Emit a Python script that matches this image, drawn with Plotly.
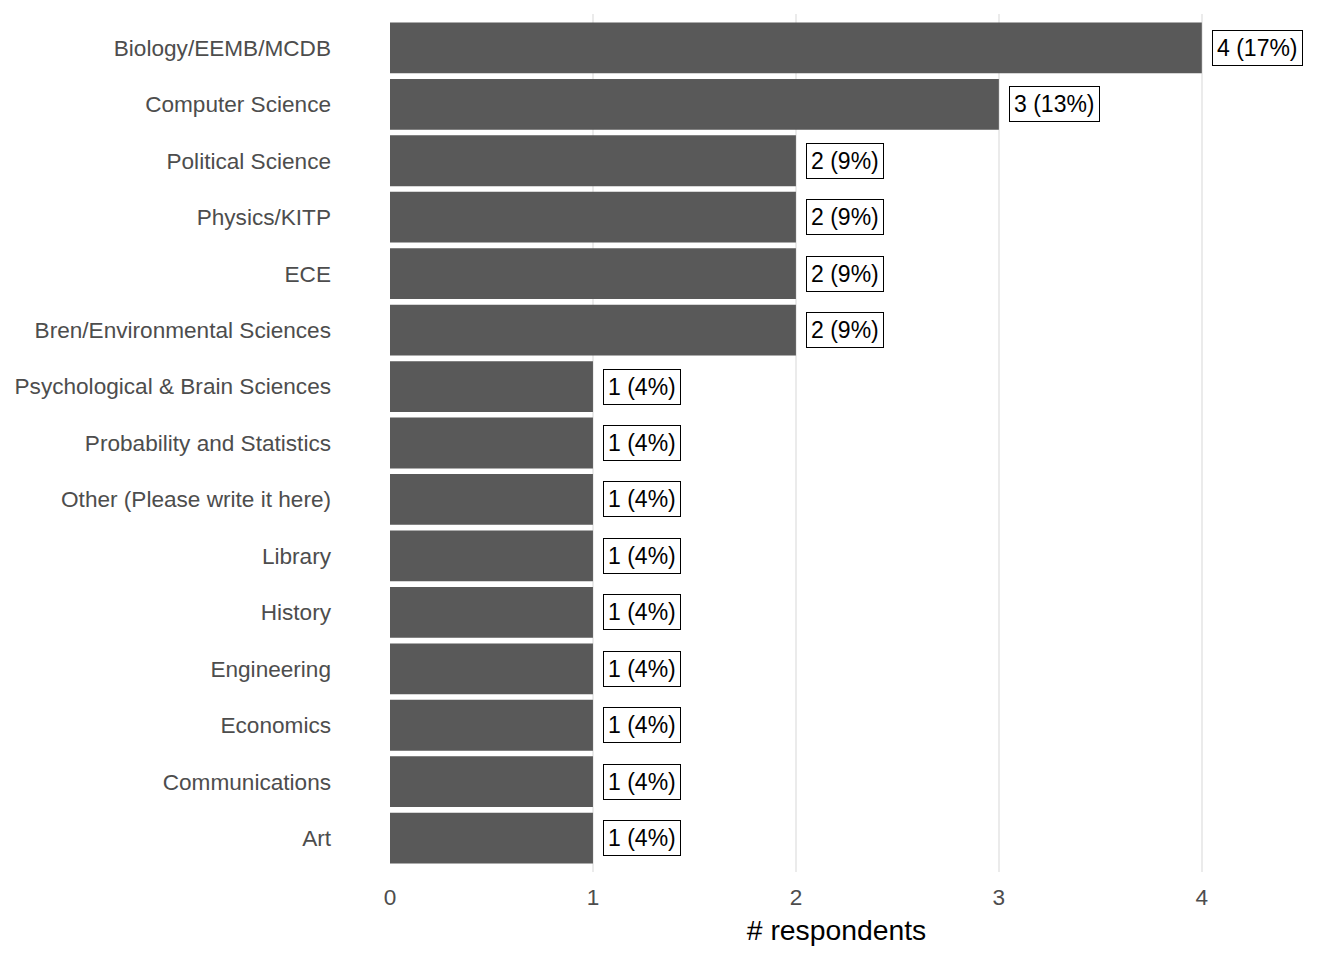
import plotly.graph_objects as go

departments = [
    "Biology/EEMB/MCDB", "Computer Science", "Political Science", "Physics/KITP",
    "ECE", "Bren/Environmental Sciences", "Psychological & Brain Sciences",
    "Probability and Statistics", "Other (Please write it here)", "Library",
    "History", "Engineering", "Economics", "Communications", "Art",
]
counts = [4, 3, 2, 2, 2, 2, 1, 1, 1, 1, 1, 1, 1, 1, 1]
percents = [17, 13, 9, 9, 9, 9, 4, 4, 4, 4, 4, 4, 4, 4, 4]
x_ticks = [0, 1, 2, 3, 4]

fig = go.Figure()
fig.add_trace(go.Bar(
    y=departments, x=counts, orientation="h",
    marker=dict(color="#595959", line=dict(width=0)),
    width=0.9, hoverinfo="skip",
))

for d, c, p in zip(departments, counts, percents):
    fig.add_annotation(
        x=c, y=d, text=f"{c} ({p}%)", showarrow=False,
        xanchor="left", yanchor="middle", xshift=10,
        font=dict(family="Liberation Sans, Arial, sans-serif", size=23, color="black"),
        bgcolor="white", bordercolor="black", borderwidth=1, borderpad=4,
    )

fig.update_layout(
    width=1344, height=960,
    margin=dict(l=382, r=69, t=6, b=96),
    plot_bgcolor="white", paper_bgcolor="white",
    showlegend=False,
    font=dict(family="Liberation Sans, Arial, sans-serif"),
)
fig.update_xaxes(
    range=[0, 4.4], tickvals=x_ticks, showgrid=True, gridcolor="#ebebeb", gridwidth=1.5,
    zeroline=False, showline=False, ticks="", automargin=False,
    tickfont=dict(size=22.6, color="#4d4d4d"), ticklabelstandoff=9,
    title=dict(text="# respondents", font=dict(size=28.3, color="black"), standoff=11),
)
fig.update_yaxes(
    categoryorder="array", categoryarray=departments, autorange=False,
    range=[14.6, -0.6], automargin=False,
    showgrid=False, zeroline=False, showline=False, ticks="",
    tickfont=dict(size=22.6, color="#4d4d4d"), ticklabelstandoff=58,
)

fig.write_html("out.html")
